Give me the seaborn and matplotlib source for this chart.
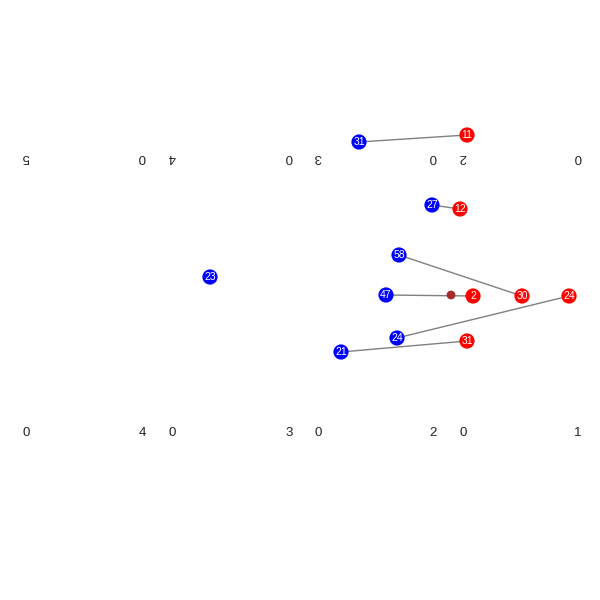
import numpy as np
import pandas as pd
import matplotlib
matplotlib.use("Agg")
import matplotlib.pyplot as plt
import seaborn as sns

sns.set_theme(style="white")
plt.rcParams['font.family'] = ['Liberation Sans', 'DejaVu Sans']

# ---- data (positions in picture units) ----
blue_x = [359, 432, 399, 386, 397, 341, 210]
blue_y = [142, 205, 255, 295, 338, 352, 277]
blue_lab = ["31", "27", "58", "47", "24", "21", "23"]

red_x = [467, 460, 522, 473, 569, 467]
red_y = [135, 209, 296, 296, 296, 341]
red_lab = ["11", "12", "30", "2", "24", "31"]

# which blue point each red one is tied to
pair_blue = [0, 1, 2, 3, 4, 5]

mid_x = [451]
mid_y = [295]

# axis label rows
bottom_x = [26, 142, 172, 289, 318, 433, 463, 578]
bottom_lab = ["0", "4", "0", "3", "0", "2", "0", "1"]
top_x = [26, 142, 172, 289, 318, 433, 463, 578]
top_lab = ["5", "0", "4", "0", "3", "0", "2", "0"]
bottom_y = 433
top_y = 157

blue_df = pd.DataFrame({"x": blue_x, "y": blue_y, "lab": blue_lab})
red_df = pd.DataFrame({"x": red_x, "y": red_y, "lab": red_lab})

fig = plt.figure(figsize=(6, 6), dpi=100)
ax = fig.add_axes([0, 0, 1, 1])
ax.set_xlim(0, 600)
ax.set_ylim(600, 0)
ax.axis("off")

# connecting segments
for i, b in enumerate(pair_blue):
    ax.plot([blue_x[b], red_x[i]], [blue_y[b], red_y[i]],
            color="gray", lw=1, zorder=1)

sns.scatterplot(data=blue_df, x="x", y="y", color="blue", s=120,
                edgecolor="none", ax=ax, zorder=2, legend=False)
sns.scatterplot(data=red_df, x="x", y="y", color="red", s=120,
                edgecolor="none", ax=ax, zorder=2, legend=False)
ax.scatter(mid_x, mid_y, color="#a52a2a", s=40, edgecolor="none", zorder=2)

for _, r in blue_df.iterrows():
    ax.text(r.x, r.y, r.lab, color="white", fontsize=7.5,
            ha="center", va="center", zorder=3)
for _, r in red_df.iterrows():
    ax.text(r.x, r.y, r.lab, color="white", fontsize=7.5,
            ha="center", va="center", zorder=3)

for xv, t in zip(bottom_x, bottom_lab):
    ax.text(xv, bottom_y, t, color="#222222", fontsize=9.5,
            ha="center", va="center")
for xv, t in zip(top_x, top_lab):
    ax.text(xv, top_y, t, color="#222222", fontsize=9.5,
            ha="center", va="center", rotation=180)

ax.set_xlabel("")
ax.set_ylabel("")
fig.savefig("out.png", dpi=100, facecolor="white")
